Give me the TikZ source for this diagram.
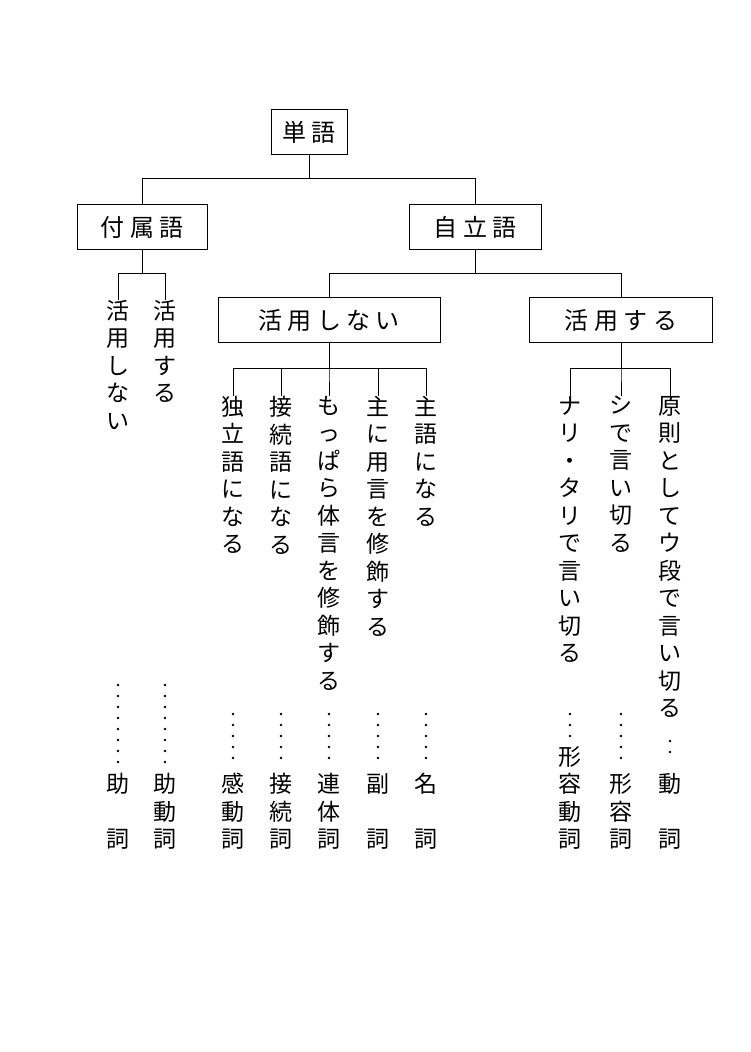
\documentclass[tikz,border=0pt]{standalone}
\usepackage{fontspec}
\setmainfont{Noto Sans CJK JP}
\begin{document}
\begin{tikzpicture}[x=1pt,y=-1pt,
  box/.style={draw,line width=0.9pt,minimum height=45pt,inner sep=0pt,font=\fontsize{24}{27.5}\selectfont},
  vtext/.style={anchor=north,inner sep=0pt,align=center,font=\fontsize{23}{27.5}\selectfont},
  term/.style={anchor=south,inner sep=0pt,align=center,font=\fontsize{23}{27.5}\selectfont},
  conn/.style={line width=0.8pt},
  dotline/.style={line width=2.6pt,line cap=round,dash pattern=on 0pt off 11pt}]
\useasboundingbox (0,0) rectangle (750,1052);
\node[box,minimum width=76pt] (root) at (309,132) {単 語};
\node[box,minimum width=130pt] (fz) at (142,227) {付 属 語};
\node[box,minimum width=132pt] (jr) at (475,227) {自 立 語};
\node[box,minimum width=222pt] (kn) at (329,320) {活 用 し な い};
\node[box,minimum width=183pt] (ks) at (621,320) {活 用 す る};
\draw[conn] (root.south) -- ++(0,23) -| (fz.north);
\draw[conn] (root.south) -- ++(0,23) -| (jr.north);
\draw[conn] (jr.south) -- ++(0,23) -| (kn.north);
\draw[conn] (jr.south) -- ++(0,23) -| (ks.north);
% fuzokugo leaves
\node[vtext] (a1) at (118,300) {活\\用\\し\\な\\い};
\node[vtext] (a2) at (165,300) {活\\用\\す\\る};
\draw[conn] (fz.south) -- ++(0,23) -| (a1.north);
\draw[conn] (fz.south) -- ++(0,23) -| (a2.north);
% katsuyo shinai leaves
\node[vtext] (b1) at (233,396) {独\\立\\語\\に\\な\\る};
\node[vtext] (b2) at (281,396) {接\\続\\語\\に\\な\\る};
\node[vtext] (b3) at (329,396) {も\\っ\\ぱ\\ら\\体\\言\\を\\修\\飾\\す\\る};
\node[vtext] (b4) at (378,396) {主\\に\\用\\言\\を\\修\\飾\\す\\る};
\node[vtext] (b5) at (426,396) {主\\語\\に\\な\\る};
\foreach \n in {b1,b2,b3,b4,b5} \draw[conn] (kn.south) -- ++(0,25) -| (\n.north);
% katsuyo suru leaves
\node[vtext] (c1) at (570,396) {ナ\\リ\\・\\タ\\リ\\で\\言\\い\\切\\る};
\node[vtext] (c2) at (621,396) {シ\\で\\言\\い\\切\\る};
\node[vtext] (c3) at (670,396) {原\\則\\と\\し\\て\\ウ\\段\\で\\言\\い\\切\\る};
\foreach \n in {c1,c2,c3} \draw[conn] (ks.south) -- ++(0,25) -| (\n.north);
% terms
\node[term] (t1) at (118,850) {助\\\mbox{}\\詞};
\node[term] (t2) at (165,850) {助\\動\\詞};
\node[term] (t3) at (233,850) {感\\動\\詞};
\node[term] (t4) at (281,850) {接\\続\\詞};
\node[term] (t5) at (329,850) {連\\体\\詞};
\node[term] (t6) at (378,850) {副\\\mbox{}\\詞};
\node[term] (t7) at (426,850) {名\\\mbox{}\\詞};
\node[term] (t8) at (570,850) {形\\容\\動\\詞};
\node[term] (t9) at (621,850) {形\\容\\詞};
\node[term] (t10) at (670,850) {動\\\mbox{}\\詞};
% leader dots
\draw[dotline] (118,685) -- (118,763);
\draw[dotline] (165,685) -- (165,763);
\foreach \x in {233,281,329,378,426} \draw[dotline] (\x,714) -- (\x,763);
\draw[dotline] (570,714) -- (570,736);
\draw[dotline] (621,714) -- (621,763);
\draw[dotline] (670,741) -- (670,763);
\end{tikzpicture}
\end{document}
